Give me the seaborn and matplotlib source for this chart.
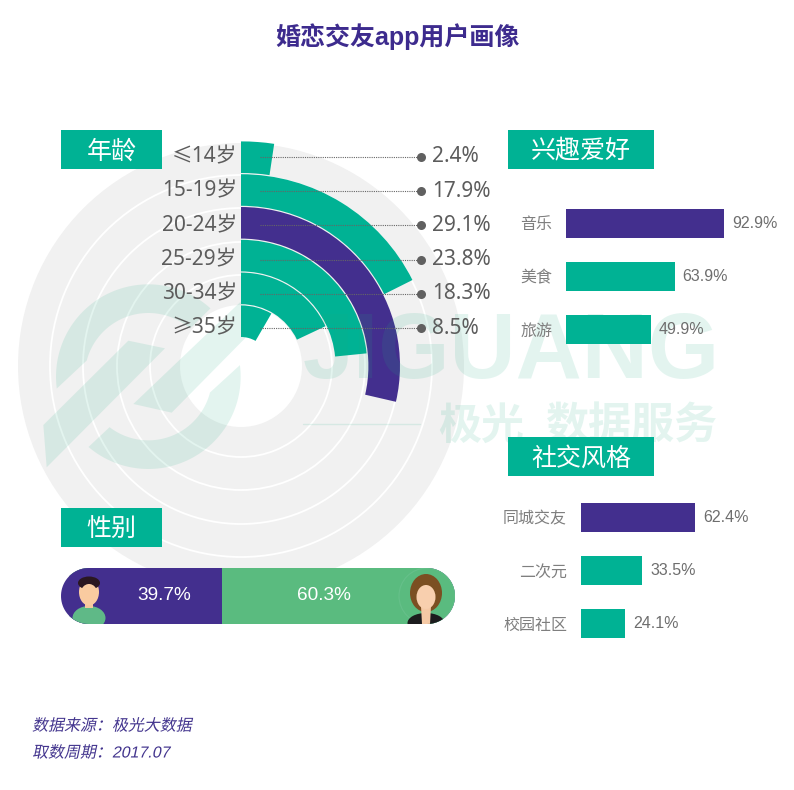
import numpy as np
import matplotlib
matplotlib.use("Agg")
import matplotlib.pyplot as plt
from matplotlib.patches import Ellipse, Polygon, Rectangle, Circle
from matplotlib.patheffects import AbstractPathEffect
from matplotlib.transforms import Affine2D
import seaborn as sns

# --- data ---
age_groups = ["≤14岁", "15-19岁", "20-24岁", "25-29岁", "30-34岁", "≥35岁"]
age_shares = [2.4, 17.9, 29.1, 23.8, 18.3, 8.5]
interest_names = ["音乐", "美食", "旅游"]
interest_shares = [92.9, 63.9, 49.9]
social_names = ["同城交友", "二次元", "校园社区"]
social_shares = [62.4, 33.5, 24.1]
gender_male = 39.7
gender_female = 60.3

TEAL = "#00b294"
PURPLE = "#432f8e"
PILL_GREEN = "#5abb7f"
MARK = "#1bab80"
GREY = "#5c5c5c"
SANS = ["Liberation Sans", "Noto Sans CJK SC", "DejaVu Sans"]
CJK = ["Noto Sans CJK SC", "DejaVu Sans"]
LIGHT = ["Noto Sans", "Noto Sans CJK SC", "DejaVu Sans"]

W, H = 794, 790
sns.set_theme(style="white")
plt.rcParams["font.family"] = SANS


class Slant(AbstractPathEffect):
    # the CJK fonts have no italic, so lean the glyph outlines instead
    def draw_path(self, renderer, gc, tpath, affine, rgbFace=None):
        renderer.draw_path(gc, tpath, Affine2D().skew_deg(12, 0) + affine, rgbFace)


def px_axes(x0, y0, x1, y1, **kw):
    return fig.add_axes([x0 / W, 1 - y1 / H, (x1 - x0) / W, (y1 - y0) / H], **kw)


fig = plt.figure(figsize=(W / 100, H / 100), dpi=100, facecolor="white")

# --- radial bars ---
CX, CY, RMAX = 241, 366, 226
DEG_PER_PCT = 3.54
INNER, PITCH = 29, 32.8

polar = px_axes(CX - RMAX, CY - RMAX, CX + RMAX, CY + RMAX, projection="polar")
polar.set_zorder(1)
polar.patch.set_visible(False)
polar.set_theta_zero_location("N")
polar.set_theta_direction(-1)
polar.bar(0, 223, width=2 * np.pi, color="#f1f1f1", linewidth=0, zorder=0.5)
polar.bar(0, 61, width=2 * np.pi, color="white", linewidth=0, zorder=1)
bottoms = [INNER + PITCH * (len(age_groups) - 1 - i) for i in range(len(age_groups))]
age_colors = [PURPLE if s == max(age_shares) else TEAL for s in age_shares]
polar.bar(
    np.deg2rad(np.array(age_shares) * DEG_PER_PCT) / 2,
    PITCH - 1.2,
    width=np.deg2rad(np.array(age_shares) * DEG_PER_PCT),
    bottom=bottoms,
    color=age_colors,
    linewidth=0,
    zorder=2,
)
polar.set_axisbelow("line")
polar.set_ylim(0, RMAX)
polar.set_yticks([91, 124, 158, 191])
polar.set_xticks([])
polar.set_yticklabels([])
polar.grid(True, axis="y", color="white", linewidth=1.3)
polar.spines["polar"].set_visible(False)

# --- watermark ---
wm = px_axes(0, 0, W, H)
wm.set_zorder(2)
wm.set_xlim(0, W)
wm.set_ylim(H, 0)
wm.axis("off")


def logo(points):
    # outlines measured on a 3x crop starting at (30, 270)
    pts = [(30 + x / 3, 270 + y / 3) for x, y in points]
    wm.add_patch(Polygon(pts, closed=True, color=MARK, alpha=0.12, linewidth=0))


def logo_arc(out0, out1, in1, in0):
    # piece of the logo ring, angles in degrees on the flipped y axis
    a_out = np.deg2rad(np.linspace(out0, out1, 60))
    a_in = np.deg2rad(np.linspace(in1, in0, 60))
    outer = np.column_stack([355 + 277 * np.cos(a_out), 320 + 277 * np.sin(a_out)])
    inner = np.column_stack([355 + 191 * np.cos(a_in), 320 + 191 * np.sin(a_in)])
    logo(np.vstack([outer, inner]))


logo_arc(172.6, 312.3, 311, 194.7)
logo_arc(-7.2, 130.4, 127.5, 14.4)
logo([(40, 465), (295, 212), (405, 235), (50, 592)])
logo([(310, 402), (632, 95), (645, 205), (425, 428)])
wm.text(303, 378, "JIGUANG", fontsize=66, fontweight="bold", color=MARK, alpha=0.12,
        ha="left", va="baseline")
wm.text(438, 426, "极光", fontsize=31, fontweight="bold", family=CJK, color=MARK, alpha=0.12,
        ha="left", va="center")
wm.text(545, 426, "数据服务", fontsize=31, fontweight="bold", family=CJK, color=MARK, alpha=0.12,
        ha="left", va="center")
wm.plot([303, 420], [424, 424], color=MARK, alpha=0.12, linewidth=1)


# --- horizontal bars ---
def side_bars(names, shares, x0, px_per_pct, top):
    ax = px_axes(x0, top - 12, x0 + 100 * px_per_pct, top + 147)
    ax.set_zorder(3)
    ax.set_facecolor("none")
    colors = [PURPLE, TEAL, TEAL]
    sns.barplot(x=shares, y=names, hue=names, palette=colors, saturation=1, legend=False,
                width=29 / 53, dodge=False, linewidth=0, ax=ax)
    for bars, share in zip(ax.containers, shares):
        ax.bar_label(bars, labels=[f"{share}%"], padding=5.8, fontsize=11.5, color="#6e6e6e")
    ax.set_xlim(0, 100)
    ax.set(xlabel="", ylabel="", xticks=[])
    ax.tick_params(axis="y", length=0, pad=10, labelsize=11.5, labelcolor="#7f7f7f")
    sns.despine(ax=ax, left=True, bottom=True)
    return ax


side_bars(interest_names, interest_shares, 566, 1.7, 209)
side_bars(social_names, social_shares, 581, 1.827, 503)

# --- foreground: text, leaders, gender pill ---
fg = px_axes(0, 0, W, H)
fg.set_zorder(4)
fg.set_xlim(0, W)
fg.set_ylim(H, 0)
fg.axis("off")

fg.text(397, 37, "婚恋交友app用户画像", fontsize=18, fontweight="bold", color="#3d2b8e",
        ha="center", va="center")

headers = [("年龄", 61, 130, 101), ("性别", 61, 508, 101), ("兴趣爱好", 508, 130, 146), ("社交风格", 508, 437, 146)]
for label, x, y, w in headers:
    fg.add_patch(Rectangle((x, y), w, 39, color=TEAL, linewidth=0))
    fg.text(x + w / 2, y + 21.5, label, fontsize=18, color="white", family=CJK, ha="center", va="center")

for i, (group, share) in enumerate(zip(age_groups, age_shares)):
    y = 157 + 34.2 * i
    fg.plot([260, 421], [y, y], color="#666666", linewidth=0.8, linestyle=(0, (1, 1)))
    fg.plot(421, y, "o", color="#606060", markersize=6.5, markeredgewidth=0)
    fg.text(237, y, group, fontsize=15, color=GREY, family=LIGHT, ha="right", va="center")
    fg.text(432, y, f"{share}%", fontsize=15, color=GREY, family=LIGHT, ha="left", va="center")

# stadium outline for the gender bar
cap = np.deg2rad(np.linspace(-90, 90, 40))
pill_pts = np.vstack([
    np.column_stack([427 + 28 * np.cos(cap), 596 + 28 * np.sin(cap)]),
    np.column_stack([89 - 28 * np.cos(cap), 596 - 28 * np.sin(cap)]),
])
pill = Polygon(pill_pts, closed=True, facecolor="none", edgecolor="none", linewidth=0)
fg.add_patch(pill)

gender = px_axes(61, 568, 455, 624)
gender.set_zorder(3)
gender.set_facecolor(PURPLE)
gender.patch.set_clip_path(pill)
sns.barplot(x=[gender_male + gender_female], y=["性别"], color=PILL_GREEN, saturation=1,
            width=1, linewidth=0, ax=gender)
sns.barplot(x=[gender_male], y=["性别"], color=PURPLE, saturation=1, width=1, linewidth=0, ax=gender)
for bar in gender.patches:
    bar.set_clip_path(pill)
gender.set_xlim(-2, 100)
gender.set(xlabel="", ylabel="", xticks=[], yticks=[])
sns.despine(ax=gender, left=True, bottom=True)

fg.text(164, 596, f"{gender_male}%", fontsize=13.7, color="white", ha="center", va="center")
fg.text(324, 596, f"{gender_female}%", fontsize=13.7, color="white", ha="center", va="center")


# --- avatars ---
def clipped(patch):
    fg.add_patch(patch)
    patch.set_clip_path(pill)


# man
clipped(Ellipse((89, 618), 33, 24, color="#5fb987", linewidth=0))
clipped(Rectangle((85, 600), 8, 8, color="#f6c79c", linewidth=0))
clipped(Ellipse((89, 592), 20, 27, color="#f9cba0", linewidth=0))
clipped(Ellipse((89, 583), 22, 13, color="#2a1720", linewidth=0))
clipped(Ellipse((89, 594), 17, 20, color="#f9cba0", linewidth=0))
# woman
clipped(Circle((427, 596), 28, facecolor="none", edgecolor="#66c08a", linewidth=0.8))
clipped(Ellipse((426, 593), 32, 38, color="#7b4f22", linewidth=0))
clipped(Ellipse((426, 623), 37, 20, color="#1c1c1e", linewidth=0))
clipped(Polygon([(421, 606), (431, 606), (430, 624), (422, 624)], color="#f5c9a5", linewidth=0))
clipped(Ellipse((426, 597), 19, 24, color="#f8cfae", linewidth=0))

# --- source notes ---
for text, y in [("数据来源：极光大数据", 726), ("取数周期：2017.07", 753)]:
    note = fg.text(32, y, text, fontsize=11.5, color="#43358e", ha="left", va="center")
    note.set_path_effects([Slant()])

fig.savefig("out.png", dpi=100, facecolor="white")
